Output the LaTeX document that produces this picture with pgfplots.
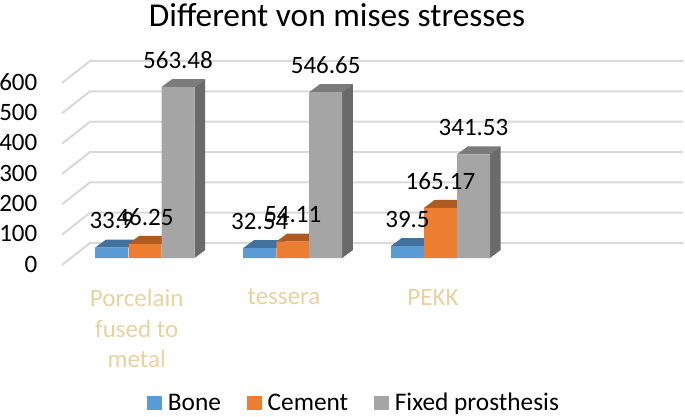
\documentclass[border=0pt]{standalone}
\usepackage{pgfplots}
\pgfplotsset{compat=1.18}
\usepackage{fontspec}
\setmainfont{Carlito}
\definecolor{cblue}{HTML}{5B9BD5}
\definecolor{cblueT}{HTML}{41719C}
\definecolor{corange}{HTML}{ED7D31}
\definecolor{corangeT}{HTML}{AE5A21}
\definecolor{cgray}{HTML}{A5A5A5}
\definecolor{cgrayT}{HTML}{7B7B7B}
\definecolor{cgrayS}{HTML}{6A6A6A}
\definecolor{cgrid}{HTML}{D9D9D9}
\definecolor{ccat}{HTML}{E9D2A0}
\newcommand{\lab}{\fontsize{18.75}{23}\selectfont}
\begin{document}
\begin{tikzpicture}
\path[use as bounding box] (0pt,0pt) rectangle (513.75pt,312.75pt);
\begin{axis}[
  at={(46.5pt,114pt)},anchor=south west,
  scale only axis,width=465.75pt,height=153pt,
  xmin=62,xmax=683,ymin=-23,ymax=649.5,
  axis line style={draw=none},tick style={draw=none},
  clip=false,
  ytick={0,100,200,300,400,500,600},
  xtick={136.7,284,433},
  xticklabels={{Porcelain\\fused to\\metal},tessera,PEKK},
  xticklabel style={align=center,text=ccat,font=\lab,anchor=north,yshift=-14.5pt},
  yticklabel style={font=\lab,text=black,xshift=-15pt,yshift=-4.5pt},
  /pgf/number format/assume math mode=true,
  /pgf/number format/fixed,/pgf/number format/precision=2,
  title={Different von mises stresses},
  title style={at={(axis cs:337,775)},anchor=center,font=\fontsize{25}{28}\selectfont,text=black},
  legend columns=3,
  legend cell align=left,
  legend style={at={(axis cs:147,-478)},anchor=west,draw=none,fill=none,inner sep=0pt,
    font=\fontsize{19}{22}\selectfont,
    /tikz/every odd column/.append style={column sep=2.5pt},
    /tikz/every even column/.append style={column sep=17.5pt}},
  legend image code/.code={\fill[#1] (0pt,-5.5pt) rectangle (11pt,5.5pt);},
  every node near coord/.append style={anchor=center,yshift=20.2pt,font=\lab,text=black},
]
% gridlines
\addplot[forget plot,cgrid,line width=1.5pt] coordinates {(62,-23) (90,49.5) (683,49.5)};
\addplot[forget plot,cgrid,line width=1.5pt] coordinates {(62,77) (90,149.5) (683,149.5)};
\addplot[forget plot,cgrid,line width=1.5pt] coordinates {(62,177) (90,249.5) (683,249.5)};
\addplot[forget plot,cgrid,line width=1.5pt] coordinates {(62,277) (90,349.5) (683,349.5)};
\addplot[forget plot,cgrid,line width=1.5pt] coordinates {(62,377) (90,449.5) (683,449.5)};
\addplot[forget plot,cgrid,line width=1.5pt] coordinates {(62,477) (90,549.5) (683,549.5)};
\addplot[forget plot,cgrid,line width=1.5pt] coordinates {(62,577) (90,649.5) (683,649.5)};
% bone
\addplot[forget plot,fill=cblueT,draw=none] coordinates {(95,33.9) (128.3,33.9) (139,60.3) (105.7,60.3)} --cycle;
\addplot[forget plot,fill=cblueT,draw=none] coordinates {(243.2,32.54) (276.2,32.54) (286.9,58.94) (253.9,58.94)} --cycle;
\addplot[forget plot,fill=cblueT,draw=none] coordinates {(391,39.5) (424,39.5) (434.7,65.9) (401.7,65.9)} --cycle;
\addplot[ybar,bar width=33,bar shift=0pt,fill=cblue,draw=none] coordinates {(111.7,33.9) (259.7,32.54) (407.5,39.5)};
\addlegendentry{Bone}
% cement
\addplot[forget plot,fill=corangeT,draw=none] coordinates {(128.3,46.25) (161.6,46.25) (172.3,72.65) (139,72.65)} --cycle;
\addplot[forget plot,fill=corangeT,draw=none] coordinates {(276.3,54.11) (309.3,54.11) (320,80.51) (287,80.51)} --cycle;
\addplot[forget plot,fill=corangeT,draw=none] coordinates {(424,165.17) (457,165.17) (467.7,191.57) (434.7,191.57)} --cycle;
\addplot[ybar,bar width=33,bar shift=0pt,fill=corange,draw=none] coordinates {(145,46.25) (292.8,54.11) (440.5,165.17)};
\addlegendentry{Cement}
% fixed prosthesis
\addplot[forget plot,fill=cgrayT,draw=none] coordinates {(161.5,563.48) (194.5,563.48) (205.2,589.88) (172.2,589.88)} --cycle;
\addplot[forget plot,fill=cgrayT,draw=none] coordinates {(309.2,546.65) (342.2,546.65) (352.9,573.05) (319.9,573.05)} --cycle;
\addplot[forget plot,fill=cgrayT,draw=none] coordinates {(457,341.53) (490,341.53) (500.7,367.93) (467.7,367.93)} --cycle;
\addplot[forget plot,fill=cgrayS,draw=none] coordinates {(194.5,0) (205.2,26.4) (205.2,589.88) (194.5,563.48)} --cycle;
\addplot[forget plot,fill=cgrayS,draw=none] coordinates {(342.2,0) (352.9,26.4) (352.9,573.05) (342.2,546.65)} --cycle;
\addplot[forget plot,fill=cgrayS,draw=none] coordinates {(490,0) (500.7,26.4) (500.7,367.93) (490,341.53)} --cycle;
\addplot[ybar,bar width=33,bar shift=0pt,fill=cgray,draw=none] coordinates {(178,563.48) (325.7,546.65) (473.5,341.53)};
\addlegendentry{Fixed prosthesis}
% data labels on top
\addplot[forget plot,draw=none,nodes near coords] coordinates {(111.7,33.9) (259.7,32.54) (407.5,39.5)};
\addplot[forget plot,draw=none,nodes near coords] coordinates {(145,46.25) (292.8,54.11) (440.5,165.17)};
\addplot[forget plot,draw=none,nodes near coords] coordinates {(178,563.48) (325.7,546.65) (473.5,341.53)};
\end{axis}
\end{tikzpicture}
\end{document}
